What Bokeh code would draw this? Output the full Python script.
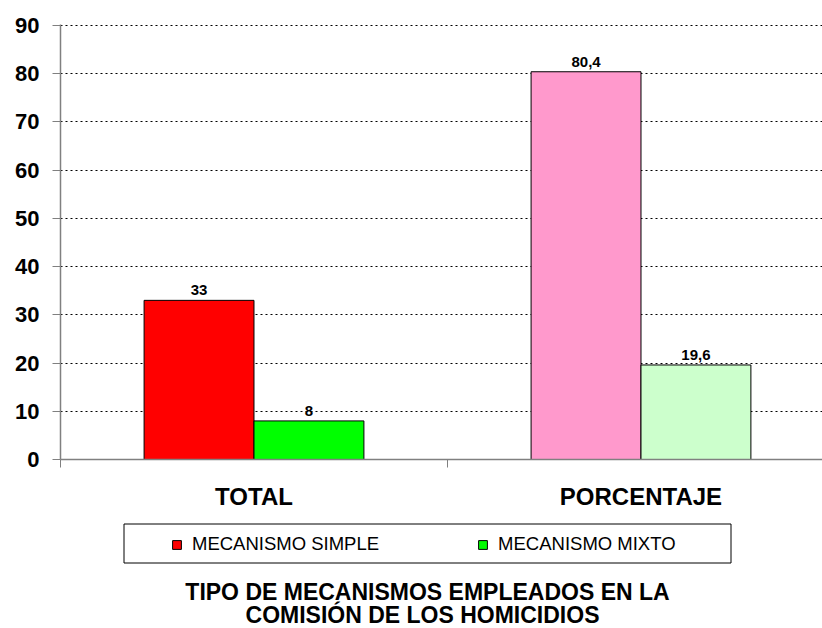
from bokeh.plotting import figure
from bokeh.layouts import column
from bokeh.models import (Range1d, FixedTicker, ColumnDataSource, Legend,
                          LegendItem, Label, BoxAnnotation)
from bokeh.embed import file_html
from bokeh.resources import INLINE
from bokeh.core.properties import value

# ---- data ----
categories = ["TOTAL", "PORCENTAJE"]
series_names = ["MECANISMO SIMPLE", "MECANISMO MIXTO"]
simple_values = [33, 80.4]
mixto_values = [8, 19.6]
simple_colors = ["#FF0000", "#FF99CC"]
mixto_colors = ["#00FF00", "#CCFFCC"]
y_ticks = [0, 10, 20, 30, 40, 50, 60, 70, 80, 90]
title_lines = ["TIPO DE MECANISMOS EMPLEADOS EN LA",
               "COMISIÓN DE LOS HOMICIDIOS"]

FONT = "Liberation Sans"
BAR_W = 0.284
centers = [i + 0.5 for i in range(len(categories))]
boundaries = [float(i) for i in range(len(categories) + 1)]


def fmt(v):
    return f"{v:g}".replace(".", ",")


src_simple = ColumnDataSource(dict(
    x=[c - BAR_W / 2 for c in centers], top=simple_values,
    color=simple_colors, label=[fmt(v) for v in simple_values]))
src_mixto = ColumnDataSource(dict(
    x=[c + BAR_W / 2 for c in centers], top=mixto_values,
    color=mixto_colors, label=[fmt(v) for v in mixto_values]))

# ---------------- main chart ----------------
p = figure(width=822, height=517, output_backend="svg",
           toolbar_location=None,
           x_range=Range1d(0, 1.969), y_range=Range1d(0, 90.2),
           min_border_left=60, min_border_top=24, min_border_right=0,
           min_border_bottom=58)
p.outline_line_color = None
p.background_fill_color = "white"

r1 = p.vbar(x="x", top="top", width=BAR_W, bottom=0, source=src_simple,
            fill_color="color", line_color="black", line_width=1)
r2 = p.vbar(x="x", top="top", width=BAR_W, bottom=0, source=src_mixto,
            fill_color="color", line_color="black", line_width=1)

for src in (src_simple, src_mixto):
    p.text(x="x", y="top", text="label", source=src, text_align="center",
           text_baseline="alphabetic", y_offset=-10,
           text_font=value(FONT), text_font_size="15px",
           text_font_style="bold", text_color="black")

xa = p.xaxis[0]
xa.ticker = FixedTicker(ticks=centers, minor_ticks=boundaries)
xa.major_label_overrides = {c: n for c, n in zip(centers, categories)}
xa.major_tick_line_color = None
xa.major_tick_out = 0
xa.major_tick_in = 0
xa.minor_tick_line_color = "#808080"
xa.minor_tick_out = 8
xa.minor_tick_in = 0
xa.axis_line_color = "#808080"
xa.axis_line_width = 1.5
xa.major_label_standoff = 15
xa.major_label_text_font = FONT
xa.major_label_text_font_size = "24px"
xa.major_label_text_font_style = "bold"
xa.major_label_text_color = "black"

ya = p.yaxis[0]
ya.ticker = FixedTicker(ticks=y_ticks)
ya.minor_tick_line_color = None
ya.major_tick_out = 8
ya.major_tick_in = 0
ya.major_tick_line_color = "#808080"
ya.axis_line_color = "#808080"
ya.axis_line_width = 1.5
ya.major_label_standoff = 13
ya.major_label_text_font = FONT
ya.major_label_text_font_size = "22px"
ya.major_label_text_font_style = "bold"
ya.major_label_text_color = "black"

p.xgrid.visible = False
p.ygrid.grid_line_color = "black"
p.ygrid.grid_line_dash = "2 3"
p.ygrid.grid_line_width = 1

# ---------------- legend + title strip ----------------
STRIP_H = 111
p2 = figure(width=822, height=STRIP_H, output_backend="svg",
            toolbar_location=None, x_axis_location=None,
            y_axis_location=None,
            x_range=Range1d(60, 822), y_range=Range1d(STRIP_H, 0),
            min_border_left=60, min_border_right=0, min_border_top=0,
            min_border_bottom=0)
p2.outline_line_color = None
p2.xgrid.visible = False
p2.ygrid.visible = False

# legend proxies share the bar data, mapped through ranges far off-canvas
p2.extra_x_ranges = {"off": Range1d(1000, 2000)}
p2.extra_y_ranges = {"off": Range1d(1000, 2000)}
k1 = p2.vbar(x="x", top="top", width=BAR_W, bottom=0, source=src_simple,
             fill_color="color", line_color="black",
             x_range_name="off", y_range_name="off")
k2 = p2.vbar(x="x", top="top", width=BAR_W, bottom=0, source=src_mixto,
             fill_color="color", line_color="black",
             x_range_name="off", y_range_name="off")

# legend frame
p2.add_layout(BoxAnnotation(left=123.5, right=730.5, top=6.5, bottom=45.5,
                            fill_color="white", fill_alpha=1,
                            line_color="black", line_alpha=1, line_width=1))

legend = Legend(items=[
    LegendItem(label=series_names[0], renderers=[k1], index=0),
    LegendItem(label=series_names[1], renderers=[k2], index=0)],
    orientation="horizontal", location=(111, 73))
legend.label_text_font = FONT
legend.label_text_font_size = "18.5px"
legend.label_text_color = "black"
legend.label_height = 21
legend.glyph_width = 11
legend.glyph_height = 11
legend.label_standoff = 10
legend.spacing = 98
legend.padding = 8
legend.margin = 0
legend.border_line_color = None
legend.background_fill_alpha = 0
p2.add_layout(legend, "center")

for line, cx, by in zip(title_lines, [427, 422], [74.5, 97.5]):
    p2.add_layout(Label(x=cx, y=by, text=line, text_align="center",
                        text_baseline="alphabetic", text_font=FONT,
                        text_font_size="23px", text_font_style="bold",
                        text_color="black"))

layout = column(p, p2, spacing=0)
open("out.html", "w").write(file_html(layout, INLINE))
